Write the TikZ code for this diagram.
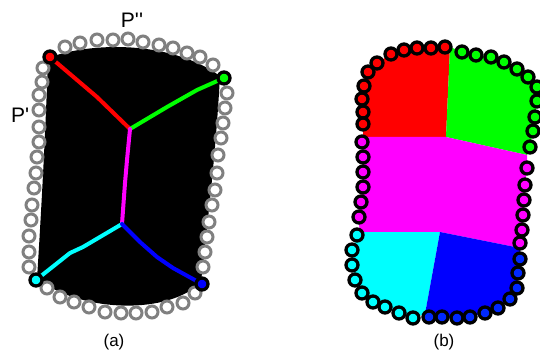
\documentclass[tikz,border=0pt]{standalone}
\usepackage{fontspec}
\newfontfamily\lab{Liberation Sans}[Ligatures=TeXOff]
\definecolor{cR}{RGB}{255,0,0}
\definecolor{cG}{RGB}{0,255,0}
\definecolor{cM}{RGB}{255,0,255}
\definecolor{cC}{RGB}{0,255,255}
\definecolor{cB}{RGB}{0,0,255}
\definecolor{cBd}{RGB}{0,40,255}
\definecolor{ring}{RGB}{128,128,128}
\begin{document}
\begin{tikzpicture}[x=1pt,y=-1pt,
  graycirc/.style={draw=ring,fill=white,line width=3pt},
  blkcirc/.style={draw=black,line width=3.3pt},
  corner/.style={draw=black,line width=3.3pt},
  skel/.style={line width=4pt,line join=round,line cap=round},
  lbl/.style={font=\lab\fontsize{21}{21}\selectfont,inner sep=0pt},
  captxt/.style={font=\lab\fontsize{17}{17}\selectfont,inner sep=0pt}]
\useasboundingbox (0,0) rectangle (540,355);
% ---------- panel (a) ----------
\fill[black] (48,58) .. controls (90,42) and (170,40) .. (220,76)
  .. controls (216,150) and (208,220) .. (201,282)
  .. controls (170,314) and (85,314) .. (37,279)
  .. controls (42,200) and (46,120) .. (48,58) -- cycle;
\foreach \p in {(65,47),(80,43),(97,40),(113,40),(128,39),(143,42),(159,45),(173,48),(187,53),(200,57),(213,65),
  (227,93),(225,108),(223,123),(221,138),(218,155),(217,173),(215,190),(212,205),(209,222),(207,237),(205,252),(203,267),
  (195,293),(183,303),(167,307),(152,312),(136,313),(121,313),(105,312),(89,307),(74,302),(60,297),(47,288),
  (29,267),(29,252),(29,236),(31,220),(32,205),(34,188),(36,173),(37,157),(39,142),(39,127),(39,110),(39,95),(42,82),(43,68)}
  \draw[graycirc] \p circle (6);
\coordinate (cr) at (50,57);
\coordinate (cg) at (224,78);
\coordinate (cc) at (36,280);
\coordinate (cb) at (202,284);
\coordinate (j1) at (130,129);
\coordinate (j2) at (122,224);
\draw[skel,cR] (cr) -- (97,97) -- (j1);
\draw[skel,cG] (j1) -- (167,107) -- (197,90) -- (cg);
\draw[skel,cM] (j1) -- (127,160) -- (125,183) -- (j2);
\draw[skel,cC] (j2) -- (83,247) -- (70,253) -- (cc);
\draw[skel,cB] (j2) -- (140,242) -- (157,257) -- (173,268) -- (cb);
\draw[corner,fill=cR] (cr) circle (6);
\draw[corner,fill=cG] (cg) circle (6);
\draw[corner,fill=cC] (cc) circle (6);
\draw[corner,fill=cB] (cb) circle (6);
\node[lbl,anchor=base] (pp) at (132,28) {P''};
\node[lbl,anchor=base west] (p) at (11,123) {P'};
\node[captxt] (la) at (114,342) {(a)};
% ---------- panel (b) ----------
\fill[cR] (363,137) -- (363,124) -- (363,112) -- (362,99) -- (364,86) -- (368,72) -- (377,63) -- (391,54) -- (404,50) -- (417,48) -- (431,48) -- (445,47) -- (450,47) -- (446,137) -- cycle;
\fill[cG] (450,47) -- (462,52) -- (476,55) -- (491,57) -- (504,62) -- (517,69) -- (528,77) -- (537,87) -- (537,101) -- (535,117) -- (533,131) -- (530,147) -- (527,155) -- (446,137) -- cycle;
\fill[cM] (363,137) -- (446,137) -- (527,155) -- (527,168) -- (525,185) -- (524,200) -- (523,215) -- (522,230) -- (520,248) -- (440,232) -- (360,232) -- (358,217) -- (360,202) -- (363,187) -- (363,172) -- (363,157) -- (362,142) -- cycle;
\fill[cC] (360,232) -- (440,232) -- (425,314) -- (413,318) -- (399,313) -- (385,307) -- (373,302) -- (362,293) -- (355,280) -- (352,265) -- (352,250) -- (357,236) -- cycle;
\fill[cB] (440,232) -- (520,248) -- (520,259) -- (518,273) -- (517,288) -- (510,299) -- (498,308) -- (485,313) -- (470,317) -- (457,318) -- (442,317) -- (429,317) -- (425,314) -- cycle;
\foreach \p in {(445,47),(431,48),(417,48),(404,50),(391,54),(377,63),(368,72),(364,86),(362,99),(363,112),(363,124)}
  \draw[blkcirc,fill=cR] \p circle (6);
\foreach \p in {(462,52),(476,55),(491,57),(504,62),(517,69),(528,77),(537,87),(537,101),(535,117),(533,131),(530,147)}
  \draw[blkcirc,fill=cG] \p circle (6);
\foreach \p in {(362,142),(363,157),(363,172),(363,187),(361,202),(359,217),(527,168),(525,185),(524,200),(523,215),(522,230),(520,243)}
  \draw[blkcirc,fill=cM] \p circle (6);
\foreach \p in {(520,259),(518,273),(517,288),(510,299),(498,308),(485,313),(470,317),(457,318),(442,317),(429,317)}
  \draw[blkcirc,fill=cBd] \p circle (6);
\foreach \p in {(357,235),(352,250),(352,265),(355,280),(362,293),(373,302),(385,307),(399,313),(413,318)}
  \draw[blkcirc,fill=cC] \p circle (6);
\node[captxt] (lb) at (444,342) {(b)};
\end{tikzpicture}
\end{document}
